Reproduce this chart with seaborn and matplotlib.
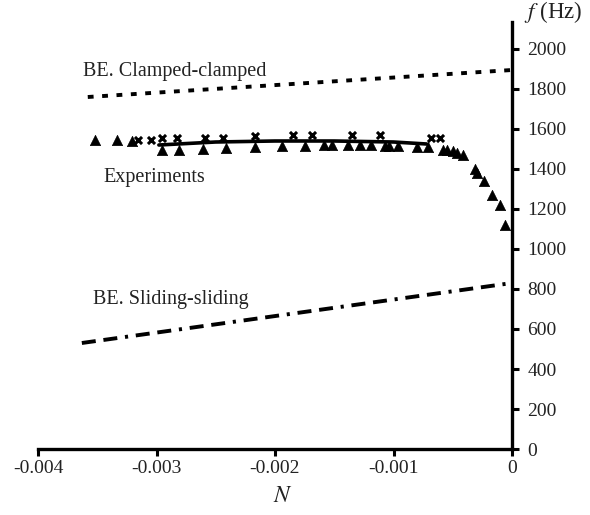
import matplotlib
matplotlib.use("Agg")
import matplotlib.pyplot as plt
import seaborn as sns
import pandas as pd
import numpy as np

# ---- data ----
tri_N = [-0.00352, -0.00333, -0.00321, -0.00295, -0.00281, -0.00261, -0.00241,
         -0.00217, -0.00194, -0.00175, -0.00159, -0.00152, -0.00138, -0.00128,
         -0.00119, -0.00107, -0.00104, -0.00096, -0.00080, -0.00071, -0.00058,
         -0.00055, -0.00050, -0.00046, -0.00041, -0.000312, -0.000295,
         -0.000236, -0.000169, -0.000101, -0.000059]
tri_f = [1545, 1545, 1540, 1495, 1495, 1500, 1505, 1510, 1515, 1515, 1520, 1520,
         1520, 1520, 1520, 1515, 1515, 1515, 1510, 1510, 1495, 1495, 1490, 1480,
         1470, 1400, 1380, 1340, 1270, 1220, 1120]

x_N = [-0.00316, -0.00305, -0.00295, -0.00283, -0.00259, -0.00244, -0.00217,
       -0.00185, -0.00169, -0.00135, -0.00111, -0.00068, -0.00061]
x_f = [1545, 1545, 1555, 1555, 1555, 1555, 1565, 1570, 1570, 1570, 1570, 1555, 1555]

fit_N = [-0.00298, -0.0025, -0.0020, -0.0015, -0.0010, -0.00072]
fit_f = [1520, 1535, 1540, 1540, 1535, 1525]

cc_N = [-0.00358, 0.0]
cc_f = [1760, 1895]

ss_N = [-0.00363, 0.0]
ss_f = [530, 830]

xticks = [-0.004, -0.003, -0.002, -0.001, 0.0]
xtick_labels = ["-0.004", "-0.003", "-0.002", "-0.001", "0"]
yticks = [0, 200, 400, 600, 800, 1000, 1200, 1400, 1600, 1800, 2000]
ytick_labels = [str(v) for v in yticks]

# ---- style ----
sns.set_style("white")
plt.rcParams["font.family"] = ["Liberation Serif", "DejaVu Serif"]
plt.rcParams["mathtext.fontset"] = "stix"

fig = plt.figure(figsize=(5.9, 5.15), dpi=100)
ax = fig.add_axes([38 / 590, 1 - 449 / 515, (512 - 38) / 590, (449 - 22) / 515])

df_tri = pd.DataFrame({"N": tri_N, "f": tri_f})
df_x = pd.DataFrame({"N": x_N, "f": x_f})
df_fit = pd.DataFrame({"N": fit_N, "f": fit_f})
df_cc = pd.DataFrame({"N": cc_N, "f": cc_f})
df_ss = pd.DataFrame({"N": ss_N, "f": ss_f})

sns.lineplot(data=df_cc, x="N", y="f", ax=ax, color="black", lw=2.8,
             estimator=None, sort=False)
ax.lines[-1].set_dashes([1.5, 2.2])
ax.lines[-1].set_dash_capstyle("butt")

sns.lineplot(data=df_ss, x="N", y="f", ax=ax, color="black", lw=2.8,
             estimator=None, sort=False)
ax.lines[-1].set_dashes([3.6, 2.0, 3.6, 2.0, 0.8, 2.0])
ax.lines[-1].set_dash_capstyle("butt")

sns.lineplot(data=df_fit, x="N", y="f", ax=ax, color="black", lw=2.6,
             estimator=None, sort=False)

sns.scatterplot(data=df_tri, x="N", y="f", ax=ax, marker="^", color="black",
                s=55, edgecolor="black", linewidth=0.5, zorder=5)
sns.scatterplot(data=df_x, x="N", y="f", ax=ax, marker="x", color="black",
                s=26, linewidth=2.2, zorder=5)

ax.set_xlim(-0.004, 0.0)
ax.set_ylim(0, 2135)

for s in ["left", "top"]:
    ax.spines[s].set_visible(False)
for s in ["right", "bottom"]:
    ax.spines[s].set_visible(True)
    ax.spines[s].set_color("black")
    ax.spines[s].set_linewidth(2.4)

ax.yaxis.tick_right()
ax.set_xticks(xticks)
ax.set_xticklabels(xtick_labels)
ax.set_yticks(yticks)
ax.set_yticklabels(ytick_labels)
ax.tick_params(axis="both", direction="out", length=5, width=2.2,
               colors="black", labelsize=14, pad=4)
ax.tick_params(axis="y", left=False, right=True, labelleft=False, labelright=True, pad=6)
ax.tick_params(axis="x", bottom=True, pad=3)
for lab in ax.get_xticklabels() + ax.get_yticklabels():
    lab.set_color("#222222")
ax.set_xlabel("")
ax.set_ylabel("")
ax.grid(False)

txt_kw = dict(fontsize=14.5, color="#222222")
ax.text(-0.00362, 1885, "BE. Clamped-clamped", ha="left", va="center", **txt_kw)
ax.text(-0.00345, 1355, "Experiments", ha="left", va="center", **txt_kw)
ax.text(-0.00354, 745, "BE. Sliding-sliding", ha="left", va="center", **txt_kw)

fig.text(553 / 590, 1 - 12 / 515, "$f$ (Hz)", ha="center", va="center",
         fontsize=16.5, color="#222222")
fig.text(283 / 590, 1 - 497 / 515, "$N$", ha="center", va="center",
         fontsize=17, color="#222222")

fig.savefig("out.png", dpi=100)
